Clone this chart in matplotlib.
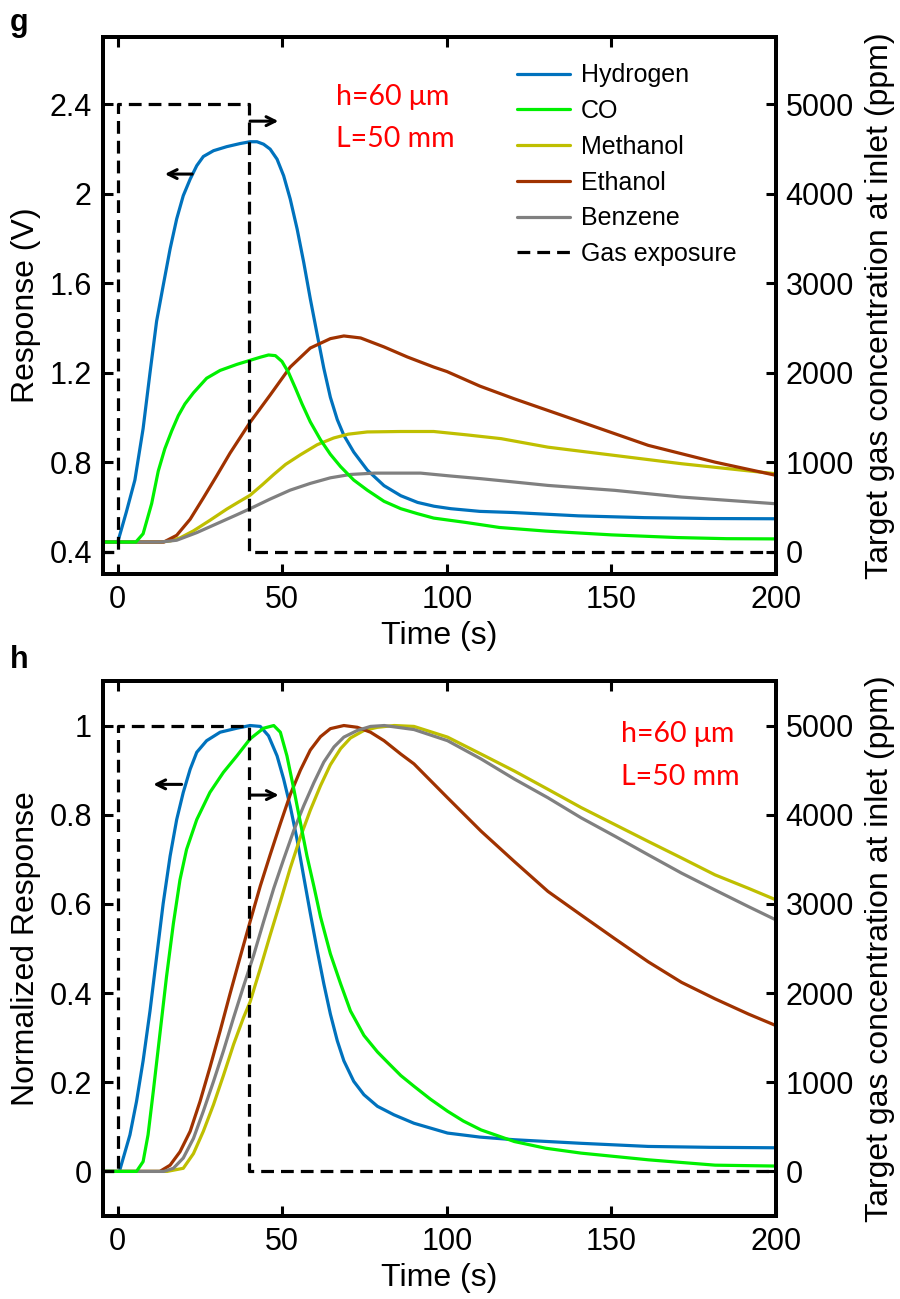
import matplotlib
matplotlib.use("Agg")
import matplotlib.pyplot as plt

plt.rcParams['font.family'] = ['Liberation Sans', 'DejaVu Sans']

# ---------------- data: panel g (Response, V) ----------------
h2_g_t = [-5, 0, 2.6, 5.2, 7.7, 9.8, 11.8, 13.8, 15.9, 17.9, 19.9, 22, 24, 26, 29.1, 33.1, 37.2, 40.2,
          42.3, 44.3, 46.3, 48.4, 50.4, 52.4, 54.5, 56.5, 58.5, 60.6, 62.6, 64.6, 66.7, 68.7, 71.7,
          75.8, 80.9, 86, 91.1, 96.1, 101.2, 110, 120, 140, 160, 180, 200]
h2_g_v = [0.443, 0.443, 0.577, 0.72, 0.95, 1.2, 1.43, 1.589, 1.753, 1.887, 1.991, 2.065, 2.125, 2.166,
          2.192, 2.21, 2.224, 2.232, 2.232, 2.221, 2.199, 2.154, 2.08, 1.976, 1.842, 1.693, 1.53, 1.37,
          1.22, 1.09, 0.99, 0.92, 0.845, 0.765, 0.695, 0.65, 0.62, 0.603, 0.592, 0.58, 0.575, 0.56,
          0.552, 0.548, 0.547]

co_g_t = [-5, 5.5, 7.7, 10.3, 12.3, 14.3, 16.4, 18.4, 20.4, 23, 27, 31.1, 36.2, 40.2, 43.3, 45.8, 47.9,
          49.9, 51.9, 54, 56, 58.5, 61.6, 64.6, 67.7, 71.7, 75.8, 80.9, 86, 91, 96, 106, 116, 130, 150,
          170, 185, 200]
co_g_v = [0.443, 0.443, 0.48, 0.615, 0.76, 0.86, 0.94, 1.008, 1.06, 1.11, 1.175, 1.21, 1.237, 1.255,
          1.269, 1.279, 1.276, 1.25, 1.2, 1.13, 1.06, 0.98, 0.9, 0.835, 0.78, 0.72, 0.675, 0.625, 0.592,
          0.57, 0.55, 0.53, 0.508, 0.492, 0.475, 0.463, 0.458, 0.457]

meoh_g_t = [-5, 13, 16, 19, 23, 28, 33.1, 36.5, 40.2, 44, 47.4, 51, 55.5, 60.6, 65.6, 70, 75.8, 86, 96,
            106, 116.5, 130.7, 151, 171.3, 200]
meoh_g_v = [0.443, 0.443, 0.448, 0.462, 0.493, 0.54, 0.59, 0.62, 0.652, 0.70, 0.745, 0.79, 0.833, 0.878,
            0.908, 0.925, 0.935, 0.937, 0.937, 0.922, 0.905, 0.867, 0.83, 0.793, 0.748]

etoh_g_t = [-5, 14, 17.9, 22, 26, 30.1, 34.1, 40.2, 46.3, 52.4, 58.5, 64.6, 68.7, 73.8, 80.9, 88, 96,
            100, 110, 120.5, 140.9, 161.2, 181.5, 200]
etoh_g_v = [0.443, 0.443, 0.473, 0.545, 0.64, 0.74, 0.84, 0.978, 1.1, 1.225, 1.31, 1.352, 1.364, 1.355,
            1.315, 1.27, 1.225, 1.205, 1.14, 1.083, 0.979, 0.875, 0.80, 0.741]

bz_g_t = [-5, 13, 17.9, 24, 30.1, 36.2, 40.2, 46.3, 52.4, 58.5, 64.6, 70.7, 78, 92, 101.2, 110.4, 120,
          130.7, 151, 171.3, 200]
bz_g_v = [0.443, 0.443, 0.451, 0.485, 0.525, 0.565, 0.592, 0.635, 0.675, 0.705, 0.73, 0.745, 0.751,
          0.751, 0.738, 0.726, 0.712, 0.696, 0.674, 0.644, 0.614]

# ---------------- data: panel h (Normalized response) ----------------
h2_h_t = [-5, 0.5, 3.7, 5.7, 7.7, 9.8, 11.8, 13.8, 15.9, 17.9, 19.9, 22, 24, 27, 31.1, 36.2, 40.2, 43.3,
          45.8, 48.4, 50.4, 52.4, 54.5, 56.5, 58.5, 60.6, 62.6, 64.6, 66.7, 68.7, 71.7, 74.8, 78.9, 83.9,
          90, 100.2, 110, 120.5, 140.8, 161.2, 180, 200]
h2_h_v = [0, 0, 0.082, 0.157, 0.248, 0.36, 0.481, 0.601, 0.707, 0.789, 0.85, 0.902, 0.94, 0.966, 0.985,
          0.994, 1.0, 0.998, 0.977, 0.932, 0.88, 0.819, 0.744, 0.661, 0.579, 0.496, 0.421, 0.353, 0.293,
          0.248, 0.202, 0.172, 0.146, 0.127, 0.108, 0.086, 0.077, 0.071, 0.063, 0.056, 0.054, 0.053]

co_h_t = [-5, 5.7, 7.7, 9.2, 10.8, 12.8, 14.8, 16.9, 18.9, 20.9, 24, 28, 32.1, 36.2, 40.2, 44.3, 47.4,
          49.4, 51.4, 53.5, 55.5, 57.5, 59.6, 61.6, 64.6, 67.7, 70.7, 74.8, 78.9, 82.9, 86, 90, 95,
          100.2, 105, 110.4, 120.5, 130, 140.8, 161.2, 181.5, 200]
co_h_v = [0, 0, 0.022, 0.082, 0.18, 0.308, 0.436, 0.556, 0.654, 0.722, 0.789, 0.85, 0.895, 0.932, 0.97,
          0.994, 1.0, 0.985, 0.932, 0.857, 0.782, 0.707, 0.639, 0.571, 0.488, 0.421, 0.36, 0.305, 0.268,
          0.238, 0.215, 0.191, 0.162, 0.135, 0.113, 0.093, 0.067, 0.052, 0.041, 0.026, 0.014, 0.012]

etoh_h_t = [-5, 12.8, 15.9, 18.9, 22, 25, 28, 31.1, 34.1, 37.2, 40.2, 43.3, 46.3, 49.4, 52.4, 55.5,
            58.5, 61.6, 64.6, 68.7, 72.8, 76.8, 80.9, 86, 90, 100.2, 110.4, 120.5, 130.7, 140.8, 151,
            161.2, 171.3, 181.5, 191.6, 200]
etoh_h_v = [0, 0, 0.014, 0.044, 0.09, 0.157, 0.233, 0.315, 0.398, 0.481, 0.56, 0.64, 0.71, 0.78, 0.845,
            0.9, 0.945, 0.975, 0.993, 1.0, 0.996, 0.985, 0.966, 0.936, 0.914, 0.838, 0.763, 0.695, 0.628,
            0.575, 0.522, 0.47, 0.424, 0.387, 0.353, 0.327]

meoh_h_t = [-5, 15, 19.9, 23, 26, 29.1, 32.1, 35.2, 38.2, 40.2, 43.3, 46.3, 49.4, 52.4, 55.5, 58.5,
            61.6, 64.6, 67.7, 70.7, 74.8, 78.9, 84, 90, 100.2, 110.4, 120.5, 130.7, 140.8, 151, 161.2,
            171.3, 181.5, 191.6, 200]
meoh_h_v = [0, 0, 0.007, 0.04, 0.09, 0.15, 0.215, 0.285, 0.345, 0.38, 0.455, 0.53, 0.605, 0.68, 0.75,
            0.81, 0.865, 0.912, 0.948, 0.972, 0.989, 0.996, 1.0, 0.998, 0.974, 0.936, 0.898, 0.857, 0.816,
            0.778, 0.74, 0.703, 0.665, 0.635, 0.609]

bz_h_t = [-5, 14, 16.9, 19.9, 23, 26, 29.1, 32.1, 35.2, 38.2, 41.3, 44.3, 47.4, 50.4, 53.5, 56.5, 59.6,
          62.6, 65.7, 68.7, 72.8, 76.8, 81, 90, 100.2, 110.4, 120.5, 130.7, 140.8, 151, 161.2, 171.3,
          181.5, 191.6, 200]
bz_h_v = [0, 0, 0.007, 0.03, 0.074, 0.135, 0.202, 0.27, 0.345, 0.415, 0.485, 0.56, 0.635, 0.7, 0.765,
          0.82, 0.872, 0.918, 0.952, 0.974, 0.989, 0.998, 1.0, 0.991, 0.966, 0.925, 0.88, 0.838, 0.793,
          0.752, 0.71, 0.669, 0.631, 0.594, 0.564]

# gas exposure (ppm at inlet)
gas_t = [-5, 0, 0, 40, 40, 200]
gas_ppm = [0, 0, 5000, 5000, 0, 0]

labels = ['Hydrogen', 'CO', 'Methanol', 'Ethanol', 'Benzene']
colors = {'Hydrogen': '#0072BD', 'CO': '#00F000', 'Methanol': '#BFBF00',
          'Ethanol': '#A03200', 'Benzene': '#808080'}

x_ticks = [0, 50, 100, 150, 200]
g_yticks = [0.4, 0.8, 1.2, 1.6, 2.0, 2.4]
g_yticklabels = ['0.4', '0.8', '1.2', '1.6', '2', '2.4']
h_yticks = [0, 0.2, 0.4, 0.6, 0.8, 1.0]
h_yticklabels = ['0', '0.2', '0.4', '0.6', '0.8', '1']
ppm_ticks = [0, 1000, 2000, 3000, 4000, 5000]

LW = 2.3
SP = 2.8
TICK_FS = 22
LAB_FS = 23
RED_FS = 20.5

fig = plt.figure(figsize=(9, 12.99), dpi=100)
ax_g = fig.add_axes([0.1144, 0.5581, 0.7478, 0.4134])
ax_h = fig.add_axes([0.1144, 0.0639, 0.7478, 0.4119])


def style(ax, axr):
    for a in (ax, axr):
        for s in a.spines.values():
            s.set_linewidth(SP)
    ax.tick_params(axis='both', direction='in', length=7, width=2.2, labelsize=TICK_FS,
                   top=True, right=False, pad=8)
    axr.tick_params(axis='y', direction='in', length=7, width=2.2, labelsize=TICK_FS, pad=7)
    ax.set_xlim(-4.5, 200)
    ax.set_xticks(x_ticks)
    ax.set_xticklabels([str(v) for v in x_ticks])
    axr.set_yticks(ppm_ticks)
    axr.set_yticklabels([str(v) for v in ppm_ticks])
    ax.set_xlabel('Time (s)', fontsize=LAB_FS, labelpad=4)
    axr.set_ylabel('Target gas concentration at inlet (ppm)', fontsize=LAB_FS, labelpad=8)


def draw(ax, series):
    handles = {}
    for name in ['Hydrogen', 'Methanol', 'Ethanol', 'Benzene', 'CO']:
        t, v = series[name]
        ln, = ax.plot(t, v, color=colors[name], lw=LW, label=name,
                      solid_joinstyle='round', solid_capstyle='round')
        handles[name] = ln
    return handles


arrow_kw = dict(arrowstyle='->', lw=2.2, color='black', mutation_scale=16, shrinkA=0, shrinkB=0)
red_kw = dict(color='red', fontsize=RED_FS, family=['Lato', 'DejaVu Sans'], va='center')

# ---------------- panel g ----------------
ax_gr = ax_g.twinx()
hd = draw(ax_g, {'Hydrogen': (h2_g_t, h2_g_v), 'CO': (co_g_t, co_g_v),
                 'Methanol': (meoh_g_t, meoh_g_v), 'Ethanol': (etoh_g_t, etoh_g_v),
                 'Benzene': (bz_g_t, bz_g_v)})
gas_ln, = ax_gr.plot(gas_t, gas_ppm, color='black', lw=2.3, ls=(0, (4, 2.2)), label='Gas exposure')
ax_g.set_ylim(0.3, 2.7)
ax_gr.set_ylim(-250, 5750)
ax_g.set_yticks(g_yticks)
ax_g.set_yticklabels(g_yticklabels)
ax_g.set_ylabel('Response (V)', fontsize=LAB_FS, labelpad=6)
style(ax_g, ax_gr)
ax_g.annotate('', xy=(14.3, 2.0875), xytext=(22.6, 2.0875), arrowprops=arrow_kw)
ax_g.annotate('', xy=(48.8, 2.324), xytext=(40.2, 2.324), arrowprops=arrow_kw)
ax_g.text(66.2, 2.43, 'h=60 μm', **red_kw)
ax_g.text(66.2, 2.244, 'L=50 mm', **red_kw)
leg = ax_gr.legend([hd[n] for n in labels] + [gas_ln], labels + ['Gas exposure'],
                   loc='upper left', bbox_to_anchor=(0.597, 0.974), frameon=False, fontsize=18,
                   handlelength=2.1, handletextpad=0.45, labelspacing=0.47, borderpad=0)

# ---------------- panel h ----------------
ax_hr = ax_h.twinx()
draw(ax_h, {'Hydrogen': (h2_h_t, h2_h_v), 'CO': (co_h_t, co_h_v),
            'Methanol': (meoh_h_t, meoh_h_v), 'Ethanol': (etoh_h_t, etoh_h_v),
            'Benzene': (bz_h_t, bz_h_v)})
ax_hr.plot(gas_t, gas_ppm, color='black', lw=2.3, ls=(0, (4, 2.2)))
ax_h.set_ylim(-0.1, 1.1)
ax_hr.set_ylim(-500, 5500)
ax_h.set_yticks(h_yticks)
ax_h.set_yticklabels(h_yticklabels)
ax_h.set_ylabel('Normalized Response', fontsize=LAB_FS, labelpad=6)
style(ax_h, ax_hr)
ax_h.annotate('', xy=(10.8, 0.868), xytext=(19.4, 0.868), arrowprops=arrow_kw)
ax_h.annotate('', xy=(48.9, 0.844), xytext=(40.2, 0.844), arrowprops=arrow_kw)
ax_h.text(153, 0.982, 'h=60 μm', **red_kw)
ax_h.text(153, 0.885, 'L=50 mm', **red_kw)

fig.text(0.011, 1 - 31 / 1299, 'g', fontsize=22, fontweight='bold', va='baseline')
fig.text(0.011, 1 - 668 / 1299, 'h', fontsize=22, fontweight='bold', va='baseline')

fig.savefig('out.png', dpi=100)
